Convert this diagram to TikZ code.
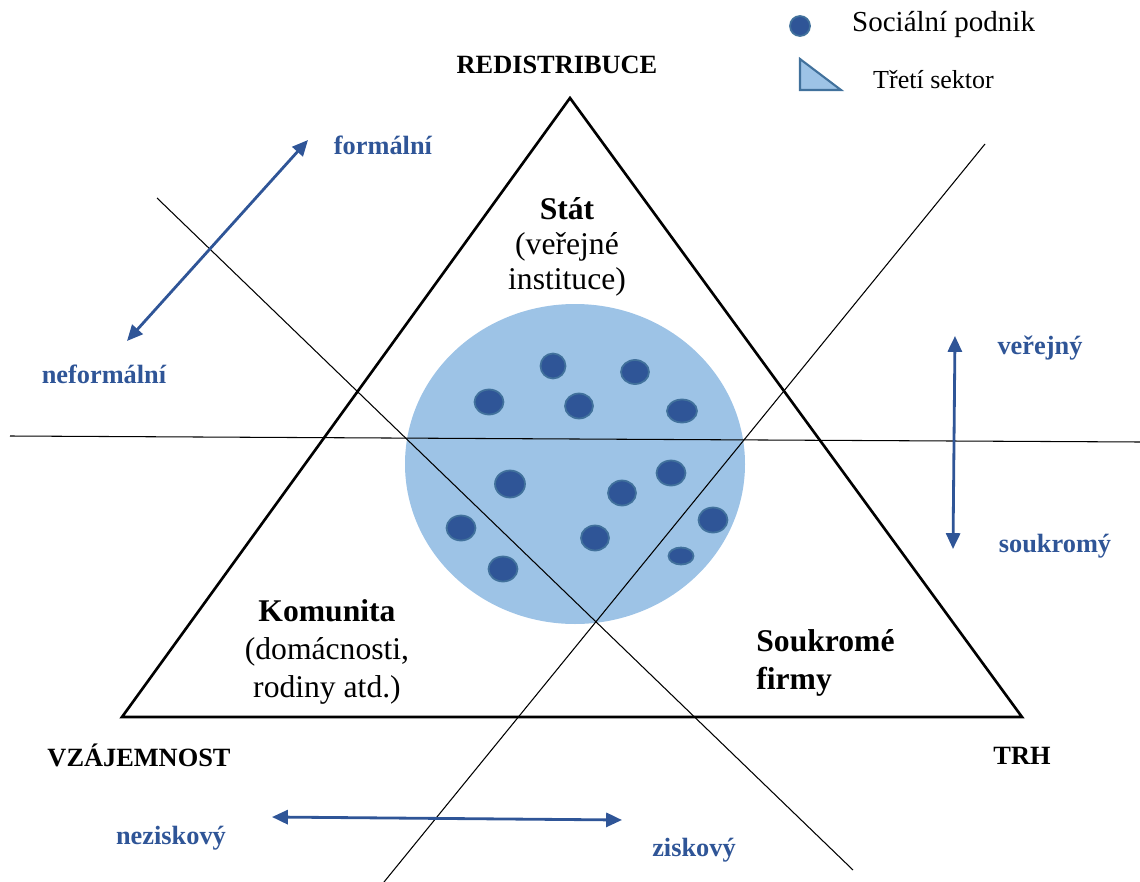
\documentclass[tikz,border=0pt]{standalone}
\usepackage{fontspec}
\setmainfont{Liberation Serif}
\usetikzlibrary{arrows.meta,positioning}

\definecolor{darkblue}{HTML}{2F5597}
\definecolor{rimblue}{HTML}{41719C}
\definecolor{lightblue}{HTML}{9DC3E6}

\tikzset{
    corner/.style={font=\fontsize{15}{18}\selectfont\bfseries},
    axislabel/.style={font=\fontsize{15}{18}\selectfont\bfseries, text=darkblue},
    sector/.style={font=\fontsize{18}{20}\selectfont, align=center, inner sep=0pt},
    axisarrow/.style={darkblue, line width=1.6pt, {Triangle[length=9pt,width=8pt]}-{Triangle[length=9pt,width=8pt]}},
    cutline/.style={black, line width=0.6pt},
    enterprise/.style={fill=darkblue, draw=rimblue, line width=1pt}
}

\begin{document}
\begin{tikzpicture}[x=0.02cm,y=-0.02cm]
            \useasboundingbox (0,0) rectangle (1140,882);

            % third sector and social enterprises
            \fill[lightblue] (575,464) ellipse [x radius=170, y radius=160];
            \foreach \px/\py/\rx/\ry in {553/366/12.5/12.5, 635/372/14/12, 489/402/14.5/12.5, 579/406/14/12.5,
                682/411/15/11.5, 510/484/15/13.5, 671/473/14.5/12.5, 622/493/14/12.5, 461/528/14.5/12.5,
                713/520/14.5/12.5, 595/538/14/12.5, 503/569/14.5/12.5, 681/556/12.5/8.5}
                \draw[enterprise] (\px,\py) ellipse [x radius=\rx, y radius=\ry];

            % the three cutting lines
            \coordinate (h1) at (10,436);
            \coordinate (h2) at (1140,442);
            \coordinate (d1) at (157,198);
            \coordinate (d2) at (853,870);
            \coordinate (a1) at (985,144);
            \coordinate (a2) at (384,882);
            \draw[cutline] (h1) -- (h2);
            \draw[cutline] (d1) -- (d2);
            \draw[cutline] (a1) -- (a2);

            % the triangle
            \coordinate (top) at (570,98);
            \coordinate (left) at (122,717);
            \coordinate (right) at (1022,717);
            \draw[line width=1.5pt, line join=miter] (top) -- (left) -- (right) -- cycle;

            % corners
            \node[corner] (redis) at (557,65) {REDISTRIBUCE};
            \node[corner] (vzaj) at (139,755) {VZÁJEMNOST};
            \node[corner] (trh) at (1022,756) {TRH};

            % sectors
            \node[sector] (stat) at (567,247) {\textbf{Stát}\\(veřejné\\instituce)};
            \node[sector, font=\fontsize{18}{21.5}\selectfont] (komunita) at (327,652) {\textbf{Komunita}\\(domácnosti,\\rodiny atd.)};
            \node[sector, font=\fontsize{18}{21.5}\selectfont\bfseries, align=left, anchor=west] (firmy) at (756,663) {Soukromé\\firmy};

            % axes
            \node[axislabel] (form) at (383,145) {formální};
            \node[axislabel] (neform) at (104,374) {neformální};
            \node[axislabel] (verej) at (1040,348) {veřejný};
            \node[axislabel] (soukr) at (1055,546) {soukromý};
            \node[axislabel] (nezisk) at (171,838) {neziskový};
            \node[axislabel] (zisk) at (694,850) {ziskový};

            \coordinate (f1) at (308,140);
            \coordinate (f2) at (127,341);
            \coordinate (v1) at (955,336);
            \coordinate (v2) at (953,549);
            \coordinate (z1) at (272,817);
            \coordinate (z2) at (622,820);
            \draw[axisarrow] (f2) -- (f1);
            \draw[axisarrow] (v2) -- (v1);
            \draw[axisarrow] (z1) -- (z2);

            % legend
            \draw[enterprise] (800,26) circle [radius=10];
            \node[font=\fontsize{16.5}{20}\selectfont, anchor=west] (leg1) at (846,25) {Sociální podnik};
            \draw[fill=lightblue, draw=rimblue, line width=1.2pt] (800,59) -- (800,90) -- (841,90) -- cycle;
            \node[font=\fontsize{14.8}{18}\selectfont, anchor=west] (leg2) at (867,80) {Třetí sektor};

            \end{tikzpicture}
\end{document}
